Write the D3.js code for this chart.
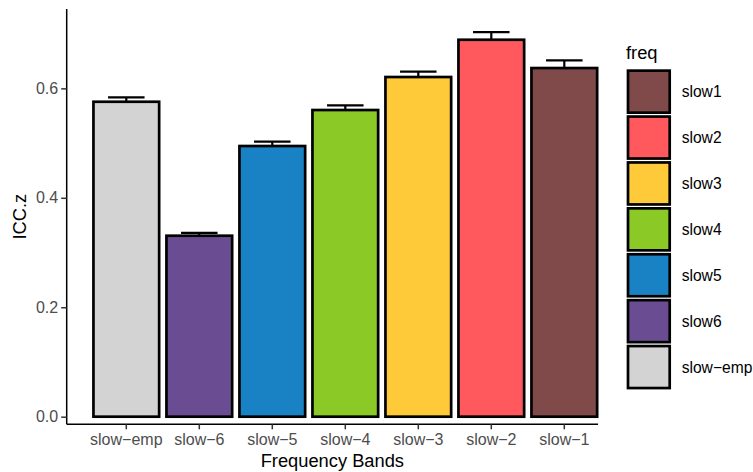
<!DOCTYPE html>
<html>
<head>
<meta charset="utf-8">
<script src="https://cdn.jsdelivr.net/npm/d3@7"></script>
<style>
html,body{margin:0;padding:0;background:#fff;}
svg{display:block;font-family:"Liberation Sans",Arial,Helvetica,sans-serif;}
</style>
</head>
<body>
<svg id="chart" width="753" height="472"></svg>
<script>
// ---- data ----
const categories = ["slow−emp","slow−6","slow−5","slow−4","slow−3","slow−2","slow−1"];
const values     = [0.5755, 0.3307, 0.4946, 0.5604, 0.6207, 0.6888, 0.6371];
const errors     = [0.0081, 0.0053, 0.0079, 0.0086, 0.0097, 0.0141, 0.0141];
const fillKeys   = ["slow-emp","slow6","slow5","slow4","slow3","slow2","slow1"];
const legendLabels = ["slow1","slow2","slow3","slow4","slow5","slow6","slow−emp"];
const legendKeys   = ["slow1","slow2","slow3","slow4","slow5","slow6","slow-emp"];
const colors       = ["#804A4A","#FF595E","#FFCA3A","#8AC926","#1982C4","#6A4C93","#D3D3D3"];
const yTicks = [0.0, 0.2, 0.4, 0.6];

// ---- layout ----
const svg = d3.select("#chart");
const panel = {left: 66.7, right: 598, top: 9, bottom: 424.3};
const yDomain = [-0.0139, 0.745];

const x = d3.scaleBand().domain(categories).range([89.8, 600.8]).padding(0);
const y = d3.scaleLinear().domain(yDomain).range([panel.bottom, panel.top]);
const color = d3.scaleOrdinal().domain(legendKeys).range(colors);

const data = categories.map((c, i) => ({cat: c, v: values[i], e: errors[i], key: fillKeys[i]}));
const barW = x.bandwidth() * 0.9;
const capW = x.bandwidth() * 0.5;

// error bars (drawn under bars)
const eb = svg.append("g");
data.forEach(d => {
  const cx = x(d.cat) + x.bandwidth() / 2;
  const g = eb.append("g").attr("stroke", "#000").attr("stroke-width", 2.2).attr("fill", "none");
  g.append("line").attr("x1", cx).attr("x2", cx).attr("y1", y(d.v - d.e)).attr("y2", y(d.v + d.e));
  g.append("line").attr("x1", cx - capW / 2).attr("x2", cx + capW / 2).attr("y1", y(d.v + d.e)).attr("y2", y(d.v + d.e));
  g.append("line").attr("x1", cx - capW / 2).attr("x2", cx + capW / 2).attr("y1", y(d.v - d.e)).attr("y2", y(d.v - d.e));
});

// bars
svg.append("g").selectAll("rect").data(data).join("rect")
  .attr("x", d => x(d.cat) + (x.bandwidth() - barW) / 2)
  .attr("width", barW)
  .attr("y", d => y(d.v))
  .attr("height", d => y(0) - y(d.v))
  .attr("fill", d => color(d.key))
  .attr("stroke", "#000")
  .attr("stroke-width", 2.7);

// axes
const yAxis = svg.append("g").attr("transform", `translate(${panel.left},0)`)
  .call(d3.axisLeft(y).tickValues(yTicks).tickFormat(d3.format(".1f")).tickSizeOuter(0).tickSize(5.5).tickPadding(3));
yAxis.select(".domain").attr("d", `M0,${panel.top}V${panel.bottom}`).attr("stroke", "#000").attr("stroke-width", 1.5);
yAxis.selectAll(".tick line").attr("stroke", "#333").attr("stroke-width", 1.5);
yAxis.selectAll(".tick text").attr("fill", "#4D4D4D").attr("font-size", 16).style("font-family", "Liberation Sans, Arial, sans-serif");

const xAxis = svg.append("g").attr("transform", `translate(0,${panel.bottom})`)
  .call(d3.axisBottom(x).tickSizeOuter(0).tickSize(5).tickPadding(4));
xAxis.select(".domain").attr("d", `M${panel.left},0H${panel.right}`).attr("stroke", "#000").attr("stroke-width", 1.5);
xAxis.selectAll(".tick line").attr("stroke", "#333").attr("stroke-width", 1.5);
xAxis.selectAll(".tick text").attr("fill", "#4D4D4D").attr("font-size", 16).style("font-family", "Liberation Sans, Arial, sans-serif");

// axis titles
svg.append("text").attr("x", (panel.left + panel.right) / 2).attr("y", 466.5)
  .attr("text-anchor", "middle").attr("font-size", 18.3).attr("fill", "#000").text("Frequency Bands");
svg.append("text").attr("transform", `translate(26,${(panel.top + panel.bottom) / 2}) rotate(-90)`)
  .attr("text-anchor", "middle").attr("font-size", 18.3).attr("fill", "#000").text("ICC.z");

// legend
const leg = svg.append("g");
leg.append("text").attr("x", 626).attr("y", 59).attr("font-size", 18.3).attr("fill", "#000").text("freq");
const step = 45.9;
legendKeys.forEach((k, i) => {
  const top = 69.3 + i * step;
  leg.append("rect").attr("x", 628).attr("y", top + 1.35).attr("width", 41.7).attr("height", 42)
    .attr("fill", color(k)).attr("stroke", "#000").attr("stroke-width", 2.7);
  leg.append("text").attr("x", 681.7).attr("y", top + 22.4).attr("dy", "0.35em")
    .attr("font-size", 15.6).attr("fill", "#000").text(legendLabels[i]);
});
</script>
</body>
</html>
